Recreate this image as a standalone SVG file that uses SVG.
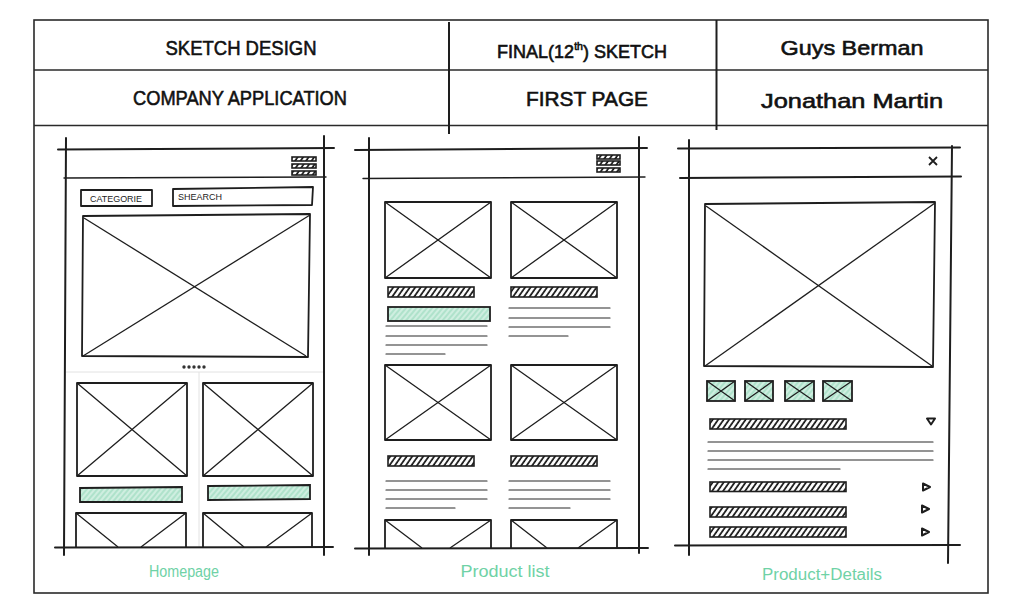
<svg xmlns="http://www.w3.org/2000/svg" width="1023" height="614" viewBox="0 0 1023 614">
<style>
.ln{stroke:#1e1e1e;stroke-width:2;fill:none;stroke-linecap:round}
.thin{stroke:#1e1e1e;stroke-width:1.4;fill:none;stroke-linecap:round}
.faint{stroke:#e2e2e2;stroke-width:1;fill:none}
.box{stroke:#1e1e1e;stroke-width:1.8;fill:none;stroke-linejoin:round}
.x{stroke:#1e1e1e;stroke-width:1.3;fill:none}
.hk{fill:url(#hatchK);stroke:#1e1e1e;stroke-width:1.6}
.hg{fill:url(#hatchG);stroke:#1e1e1e;stroke-width:1.8}
.txt{stroke:#2a2a2a;stroke-width:1.2;fill:none;stroke-linecap:round}
.hd{font-family:"Liberation Sans",Arial,sans-serif;font-size:21px;fill:#111;stroke:#111;stroke-width:0.6;text-anchor:middle}
.sm{font-family:"Liberation Sans",Arial,sans-serif;font-size:8.5px;fill:#222}
.lab{font-family:"Liberation Sans",Arial,sans-serif;font-size:16px;fill:#6fd2a6;text-anchor:middle}
.tri{fill:#fff;stroke:#1e1e1e;stroke-width:2;stroke-linejoin:round}
</style>
<defs>
<pattern id="hatchK" patternUnits="userSpaceOnUse" width="4.5" height="4.5" patternTransform="rotate(35)">
<rect width="4.5" height="4.5" fill="#fff"/>
<line x1="1" y1="0" x2="1" y2="4.5" stroke="#111" stroke-width="1.7"/>
</pattern>
<pattern id="hatchG" patternUnits="userSpaceOnUse" width="4" height="4" patternTransform="rotate(40)">
<rect width="4" height="4" fill="#cfeee0"/>
<line x1="1" y1="0" x2="1" y2="4" stroke="#8fd6b6" stroke-width="1"/>
</pattern>
</defs>
<rect width="1023" height="614" fill="#fff"/>

<g id="frame">
<rect x="34" y="20" width="954" height="573" fill="none" stroke="#2a2a2a" stroke-width="1.6"/>
<line x1="34" y1="70" x2="988" y2="70" stroke="#2a2a2a" stroke-width="1.4"/>
<line x1="34" y1="125.5" x2="988" y2="125.5" stroke="#2a2a2a" stroke-width="1.6"/>
<line x1="449" y1="22" x2="449" y2="134" stroke="#1e1e1e" stroke-width="2"/>
<line x1="716.5" y1="20" x2="716.5" y2="130" stroke="#1e1e1e" stroke-width="2"/>
</g>

<g id="header">
<text class="hd" x="241" y="55" textLength="151" lengthAdjust="spacingAndGlyphs">SKETCH DESIGN</text>
<text class="hd" x="240" y="105" textLength="214" lengthAdjust="spacingAndGlyphs">COMPANY APPLICATION</text>
<text class="hd" x="582" y="58" style="font-size:18px">FINAL(12<tspan style="font-size:10.5px" dy="-8">th</tspan><tspan dy="8">) SKETCH</tspan></text>
<text class="hd" x="587" y="106" textLength="122" lengthAdjust="spacingAndGlyphs">FIRST PAGE</text>
<text class="hd" x="852" y="55" textLength="143" lengthAdjust="spacingAndGlyphs">Guys Berman</text>
<text class="hd" x="852" y="108" textLength="182" lengthAdjust="spacingAndGlyphs">Jonathan Martin</text>
</g>

<g id="panel-homepage">
<line class="faint" x1="66" y1="372" x2="324" y2="372"/>
<line class="faint" x1="199" y1="372" x2="199" y2="547"/>
<path class="ln" d="M66,138 L64,555"/>
<path class="ln" d="M324,136 L324,555"/>
<path class="ln" d="M58,149.5 L334,148"/>
<path class="thin" d="M64,178 L326,177"/>
<rect class="hk" x="292" y="157" width="24" height="4"/>
<rect class="hk" x="292" y="164" width="24" height="4"/>
<rect class="hk" x="292" y="171" width="24" height="4"/>
<rect class="box" x="81" y="190" width="71" height="16"/>
<text class="sm" x="90" y="202" textLength="52" lengthAdjust="spacingAndGlyphs">CATEGORIE</text>
<path class="box" d="M173,189 L313,187 L312,205 L173,206 Z"/>
<text class="sm" x="178" y="200" textLength="44" lengthAdjust="spacingAndGlyphs">SHEARCH</text>
<path class="box" d="M83,216 L310,214 L308,357 L82,356 Z"/>
<path class="x" d="M84,218 L306,356" stroke-width="1.8"/>
<path class="x" d="M83,356 L310,215"/>
<g fill="#333"><circle cx="184" cy="367" r="1.7"/><circle cx="189" cy="367" r="1.7"/><circle cx="194" cy="367" r="1.7"/><circle cx="199" cy="367" r="1.7"/><circle cx="204" cy="367" r="1.7"/></g>
<rect class="box" x="77" y="383" width="110" height="93"/>
<path class="x" d="M77,383 L187,476 M77,476 L187,383"/>
<rect class="box" x="203" y="383" width="110" height="93"/>
<path class="x" d="M203,383 L313,476 M203,476 L313,383"/>
<path class="hg" d="M80,488 L182,487 L182,502 L80,502 Z"/>
<path class="hg" d="M208,486 L310,485 L310,499 L208,500 Z"/>
<path class="box" d="M76,547 L76,513 L186,513 L186,547"/>
<path class="x" d="M76,513 L118,547 M186,513 L141,547"/>
<path class="box" d="M203,547 L203,513 L312,513 L312,547"/>
<path class="x" d="M203,513 L244,547 M312,513 L266,547"/>
<path class="ln" d="M55,547.5 L333,547"/>
</g>

<g id="panel-product-list">
<path class="ln" d="M369,138 L369,555"/>
<path class="ln" d="M639,137 L639,553"/>
<path class="ln" d="M355,150 L647,148"/>
<path class="thin" d="M363,178.5 L645,177"/>
<rect class="hk" x="597" y="155" width="23" height="4"/>
<rect class="hk" x="597" y="161" width="23" height="4"/>
<rect class="hk" x="597" y="168" width="23" height="4"/>
<rect class="box" x="385" y="202" width="106" height="76"/>
<path class="x" d="M385,202 L491,278 M385,278 L491,202"/>
<rect class="box" x="511" y="202" width="106" height="76"/>
<path class="x" d="M511,202 L617,278 M511,278 L617,202"/>
<rect class="hk" x="388" y="287" width="86" height="10"/>
<rect class="hk" x="511" y="287" width="86" height="10"/>
<rect class="hg" x="388" y="307" width="102" height="14"/>
<path class="txt" d="M386,326 L487,326 M386,336 L487,336 M386,345 L487,345 M386,354 L445,354"/>
<path class="txt" d="M509,308 L610,308 M509,318 L610,318 M509,327 L610,327 M509,336 L568,336"/>
<rect class="box" x="385" y="365" width="106" height="75"/>
<path class="x" d="M385,365 L491,440 M385,440 L491,365"/>
<rect class="box" x="511" y="365" width="106" height="75"/>
<path class="x" d="M511,365 L617,440 M511,440 L617,365"/>
<rect class="hk" x="388" y="456" width="86" height="10"/>
<rect class="hk" x="511" y="456" width="86" height="10"/>
<path class="txt" d="M386,481 L487,481 M386,490 L487,490 M386,499 L487,499 M386,508 L455,508"/>
<path class="txt" d="M509,481 L610,481 M509,490 L610,490 M509,499 L610,499 M509,508 L570,508"/>
<path class="box" d="M385,548 L385,520 L491,520 L491,548"/>
<path class="x" d="M385,520 L422,548 M491,520 L450,548"/>
<path class="box" d="M511,548 L511,520 L617,520 L617,548"/>
<path class="x" d="M511,520 L547,548 M617,520 L578,548"/>
<path class="ln" d="M355,548.5 L648,548"/>
</g>

<g id="panel-product-details">
<path class="ln" d="M689,140 L689,555"/>
<path class="ln" d="M952,146 L948,563"/>
<path class="ln" d="M678,148.5 L960,147.5"/>
<path class="ln" d="M680,178 L961,176.5"/>
<path d="M929,157 L937,165 M937,157 L929,165" stroke="#1e1e1e" stroke-width="1.8"/>
<path class="box" d="M705,204 L935,202 L933,367 L704,366 Z"/>
<path class="x" d="M706,206 L932,366" stroke-width="1.8"/>
<path class="x" d="M705,366 L935,203"/>
<g>
<rect class="hg" x="707" y="381" width="28" height="20"/><path class="x" d="M707,381 L735,401 M707,401 L735,381"/>
<rect class="hg" x="745" y="381" width="28" height="20"/><path class="x" d="M745,381 L773,401 M745,401 L773,381"/>
<rect class="hg" x="785" y="381" width="29" height="20"/><path class="x" d="M785,381 L814,401 M785,401 L814,381"/>
<rect class="hg" x="823" y="381" width="29" height="20"/><path class="x" d="M823,381 L852,401 M823,401 L852,381"/>
</g>
<rect class="hk" x="710" y="419" width="136" height="10"/>
<path class="tri" d="M927,418.5 L935,418.5 L931,424.5 Z"/>
<path class="txt" d="M708,442 L933,442 M708,451 L933,451 M708,460 L933,460 M708,469 L840,469"/>
<rect class="hk" x="710" y="482" width="136" height="9.5"/>
<rect class="hk" x="710" y="507" width="136" height="10"/>
<rect class="hk" x="710" y="527" width="136" height="10"/>
<path class="tri" d="M923,483.5 L930,487 L923,490.5 Z"/>
<path class="tri" d="M922,505.5 L929,509 L922,512.5 Z"/>
<path class="tri" d="M922,528.5 L929,532 L922,535.5 Z"/>
<path class="ln" d="M675,545.5 L960,545"/>
</g>

<g id="labels">
<text class="lab" x="184" y="577" textLength="70" lengthAdjust="spacingAndGlyphs">Homepage</text>
<text class="lab" x="505" y="577" textLength="89" lengthAdjust="spacingAndGlyphs">Product list</text>
<text class="lab" x="822" y="580" textLength="120" lengthAdjust="spacingAndGlyphs">Product+Details</text>
</g>
</svg>
